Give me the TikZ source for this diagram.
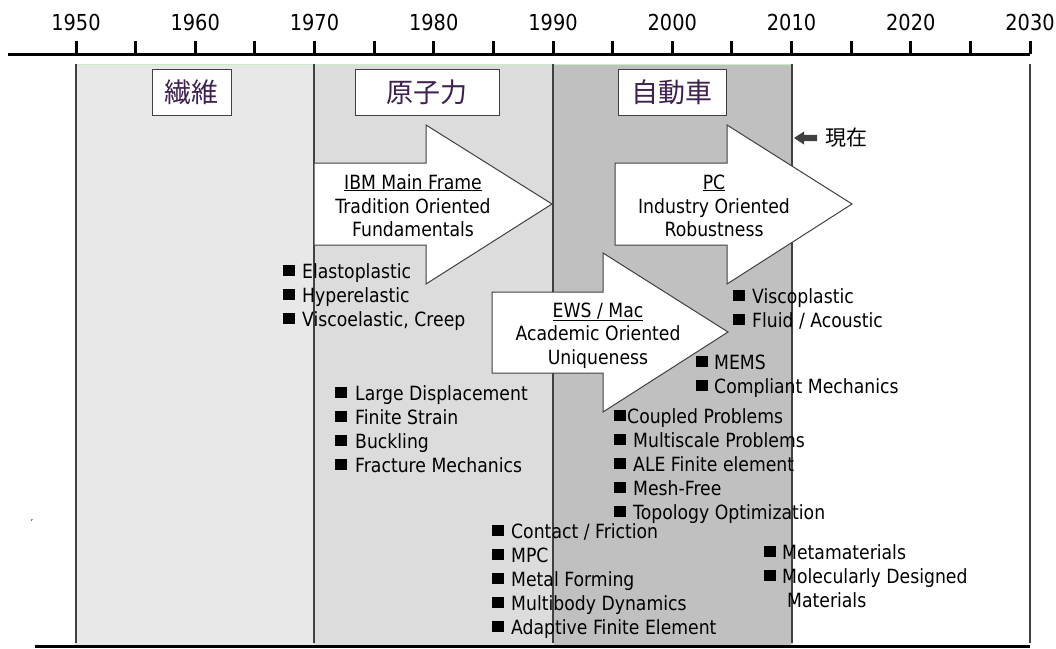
\documentclass[tikz,border=0pt]{standalone}
\usepackage{fontspec}
\setmainfont[FakeStretch=0.88]{DejaVu Sans}
\newfontfamily\jpfont{Noto Sans CJK JP}
\definecolor{bandA}{HTML}{E8E8E8}
\definecolor{bandB}{HTML}{DCDCDC}
\definecolor{bandC}{HTML}{C0C0C0}
\definecolor{bandedge}{HTML}{C8EEC8}
\definecolor{gridln}{HTML}{404040}
\definecolor{catpurple}{RGB}{64,32,80}
\newcommand\itemfont{\fontsize{19.6}{23.5}\selectfont}
\newcommand\litem[5]{%
  \node[bulsq] (#1-b) at (#2+6.5,#4-7.5) {};
  \node[itemtxt] (#1) at (#3,#4) {#5};}
\tikzset{
  band/.style={draw=bandedge, line width=0.8pt},
  gridline/.style={draw=gridln, line width=1.1pt},
  axisline/.style={draw=black, line width=3pt},
  tickmark/.style={draw=black, line width=3pt},
  yearlbl/.style={anchor=base, inner sep=0, font=\fontsize{22}{26}\selectfont},
  catbox/.style={draw=gridln, fill=white, line width=1pt, inner sep=0,
    font=\jpfont\fontsize{27}{30}\selectfont, text=catpurple, minimum height=46pt},
  blockarrow/.style={draw=gridln, fill=white, line width=1pt, line join=miter},
  arrtxt/.style={anchor=base, inner sep=0, font=\itemfont},
  bulsq/.style={fill=black, inner sep=0, minimum width=12pt, minimum height=11pt, draw=none},
  itemtxt/.style={anchor=base west, inner sep=0, font=\itemfont},
}
\begin{document}
\begin{tikzpicture}[x=1pt,y=-1pt]
\useasboundingbox (0,0) rectangle (1056,648);
% bands
\fill[bandA] (76,64) rectangle (314,645);
\fill[bandB] (314,64) rectangle (553,645);
\fill[bandC] (553,64) rectangle (792,645);
\draw[band] (76,64) -- (792,64);
\foreach \xx in {76,314,553,792}{ \draw[draw=bandedge,line width=2pt] (\xx,64) -- (\xx,645); }
\foreach \xx in {76,314,553,792,1030}{ \draw[gridline] (\xx,64) -- (\xx,643); }
% axis
\draw[axisline] (8,54) -- (1030,54);
\foreach \yr in {1950,1955,...,2030}{
  \pgfmathsetmacro\xx{76+(\yr-1950)*11.925}
  \draw[tickmark] (\xx,41) -- (\xx,54);
}
\foreach \yr in {1950,1960,...,2030}{
  \pgfmathsetmacro\xx{76+(\yr-1950)*11.925}
  \node[yearlbl] (y\yr) at (\xx,30) {\yr};
}
% bottom line
\draw[axisline] (35,646.5) -- (1030,646.5);
% category boxes
\node[catbox, minimum width=79pt] (sen) at (191.5,92) {繊維};
\node[catbox, minimum width=144pt] (gen) at (427,92) {原子力};
\node[catbox, minimum width=108pt] (jid) at (672,92) {自動車};
% now marker
\fill[gridln] (794,138) -- (804,131.5) -- (804,134.8) -- (817,134.8) -- (817,141.2) -- (804,141.2) -- (804,144.5) -- cycle;
\node[anchor=west, inner sep=0, font=\jpfont\fontsize{21}{24}\selectfont] (now) at (825,138) {現在};
% block arrows
\draw[blockarrow] (314,163) -- (426,163) -- (426,125) -- (552,204) -- (426,284) -- (426,245) -- (314,245) -- cycle;
\draw[blockarrow] (615,163) -- (727,163) -- (727,125) -- (852,204) -- (727,284) -- (727,245) -- (615,245) -- cycle;
\draw[blockarrow] (492,292) -- (603,292) -- (603,253) -- (728,332) -- (603,412) -- (603,373) -- (492,373) -- cycle;
\node[arrtxt] (a1l1) at (413,189) {\underline{IBM Main Frame}};
\node[arrtxt] (a1l2) at (413,213) {Tradition Oriented};
\node[arrtxt] (a1l3) at (413,236) {Fundamentals};
\node[arrtxt] (a2l1) at (714,189) {\underline{PC}};
\node[arrtxt] (a2l2) at (714,213) {Industry Oriented};
\node[arrtxt] (a2l3) at (714,236) {Robustness};
\node[arrtxt] (a3l1) at (598,317) {\underline{EWS / Mac}};
\node[arrtxt] (a3l2) at (598,340) {Academic Oriented};
\node[arrtxt] (a3l3) at (598,364) {Uniqueness};
% items
\litem{ia1}{282}{302}{278}{Elastoplastic}
\litem{ia2}{282}{302}{302}{Hyperelastic}
\litem{ia3}{282}{302}{326}{Viscoelastic, Creep}
\litem{ib1}{334}{355}{400}{Large Displacement}
\litem{ib2}{334}{355}{424}{Finite Strain}
\litem{ib3}{334}{355}{448}{Buckling}
\litem{ib4}{334}{355}{472}{Fracture Mechanics}
\litem{ic1}{732}{752}{303}{Viscoplastic}
\litem{ic2}{732}{752}{327}{Fluid / Acoustic}
\litem{id1}{695}{714}{369}{MEMS}
\litem{id2}{695}{714}{393}{Compliant Mechanics}
\litem{ie1}{613}{627}{423}{Coupled Problems}
\litem{ie2}{613}{633}{447}{Multiscale Problems}
\litem{ie3}{613}{633}{471}{ALE Finite element}
\litem{ie4}{613}{633}{495}{Mesh-Free}
\litem{ie5}{613}{633}{519}{Topology Optimization}
\litem{if1}{491}{511}{538}{Contact / Friction}
\litem{if2}{491}{511}{562}{MPC}
\litem{if3}{491}{511}{586}{Metal Forming}
\litem{if4}{491}{511}{610}{Multibody Dynamics}
\litem{if5}{491}{511}{634}{Adaptive Finite Element}
\litem{ig1}{763}{782}{559}{Metamaterials}
\litem{ig2}{763}{782}{583}{Molecularly Designed}
\node[itemtxt] (ig3) at (787,607) {Materials};
% stray mark
\node[inner sep=0, font=\fontsize{11}{12}\selectfont] (mark) at (32,523) {′};
\end{tikzpicture}
\end{document}
